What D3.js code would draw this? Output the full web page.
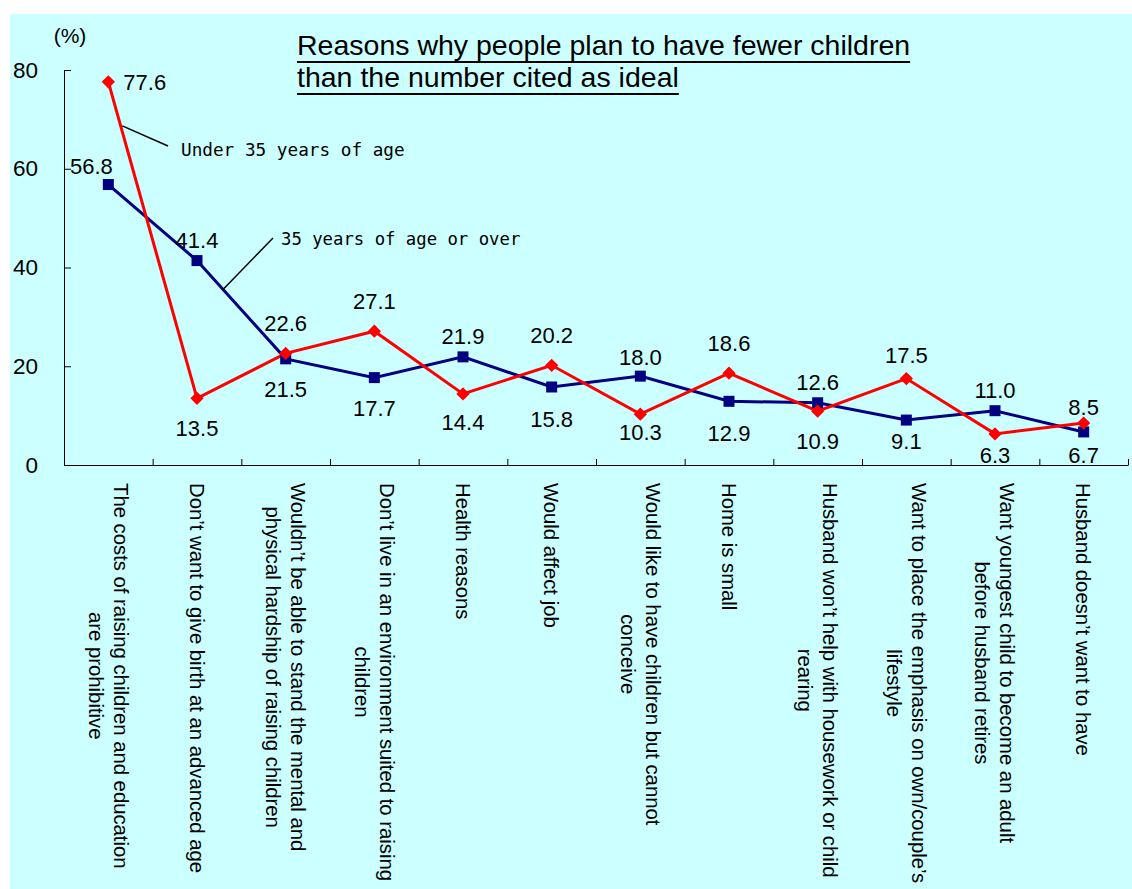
<!DOCTYPE html>
<html><head><meta charset="utf-8">
<script src="https://cdn.jsdelivr.net/npm/d3@7"></script>
<style>body{margin:0;background:#fff;} svg{display:block}</style>
</head><body>
<svg id="c" width="1132" height="889"></svg>
<script>
const categories = [
  "The costs of raising children and education\nare prohibitive",
  "Don’t want to give birth at an advanced age",
  "Wouldn’t be able to stand the mental and\nphysical hardship of raising children",
  "Don’t live in an environment suited to raising\nchildren",
  "Health reasons",
  "Would affect job",
  "Would like to have children but cannot\nconceive",
  "Home is small",
  "Husband won’t help with housework or child\nrearing",
  "Want to place the emphasis on own/couple’s\nlifestyle",
  "Want youngest child to become an adult\nbefore husband retires",
  "Husband doesn’t want to have"
];
const under35 = [77.6, 13.5, 22.6, 27.1, 14.4, 20.2, 10.3, 18.6, 10.9, 17.5, 6.3, 8.5];
const over35  = [56.8, 41.4, 21.5, 17.7, 21.9, 15.8, 18.0, 12.9, 12.6, 9.1, 11.0, 6.7];
const yTicks = [0, 20, 40, 60, 80];
const seriesNames = ["Under 35 years of age", "35 years of age or over"];
const titleLines = ["Reasons why people plan to have fewer children", "than the number cited as ideal"];
const yUnit = "(%)";

// layout-only: vertical nudges (px) of individual data labels
const redLabelNudge  = [0, 0, 0, 0, -2, 0, -12, 0, 0, 6, -9, 14];
const blueLabelNudge = [0, 0, 0, 0, 0, 2, 2, 2, 0, -9, 0, -7];

const svg = d3.select("#c");
const SANS = "'Liberation Sans', Arial, sans-serif";
svg.append("rect").attr("x", 10).attr("y", 14).attr("width", 1122).attr("height", 875).attr("fill", "#CCFFFF");

const x0 = 64, x1 = 1128, yTop = 70, yBot = 465;
const x = d3.scaleBand().domain(d3.range(categories.length)).range([x0, x1]);
const xEdge = d3.scaleLinear().domain([0, categories.length]).range([x0, x1]);
const y = d3.scaleLinear().domain([0, 80]).range([yBot, yTop]);
const cx = i => x(i) + x.bandwidth() / 2;

// Y axis
const ya = svg.append("g").attr("transform", `translate(${x0},0)`)
  .call(d3.axisLeft(y).tickValues(yTicks).tickSize(-7).tickSizeOuter(0).tickPadding(26));
ya.select(".domain").attr("stroke", "#000");
ya.selectAll(".tick line").attr("stroke", "#000");
ya.selectAll(".tick text").attr("font-family", SANS).attr("font-size", 22.5).attr("fill", "#000");

// X axis
const xa = svg.append("g").attr("transform", `translate(0,${yBot})`)
  .call(d3.axisBottom(xEdge).tickValues(d3.range(categories.length + 1)).tickSize(-6).tickSizeOuter(0).tickFormat(""));
xa.select(".domain").attr("stroke", "#000");
xa.selectAll(".tick line").attr("stroke", "#000");

// unit
svg.append("text").attr("x", 70).attr("y", 43).attr("text-anchor", "middle")
  .attr("font-family", SANS).attr("font-size", 21).text(yUnit);

// Title
titleLines.forEach((t, j) => {
  const tx = svg.append("text").attr("x", 297).attr("y", 55 + j * 32)
    .attr("font-family", SANS).attr("font-size", 28.5).attr("fill", "#000").text(t);
  const w = tx.node().getComputedTextLength();
  svg.append("line").attr("x1", 297).attr("x2", 297 + w)
    .attr("y1", 62 + j * 32).attr("y2", 62 + j * 32).attr("stroke", "#000").attr("stroke-width", 2);
});

// Category labels
categories.forEach((c, i) => {
  const lines = c.split("\n");
  const g = svg.append("g").attr("transform", `translate(${cx(i)},483) rotate(90)`);
  const texts = lines.map((l, j) => g.append("text")
    .attr("y", (j - (lines.length - 1) / 2) * 25)
    .attr("dy", "0.36em")
    .attr("text-anchor", "middle")
    .attr("font-family", SANS).attr("font-size", 20.3).attr("fill", "#000").text(l));
  const maxW = d3.max(texts, t => t.node().getComputedTextLength());
  texts.forEach(t => t.attr("x", maxW / 2));
});

// Lines
const line = d3.line().x((d, i) => cx(i)).y(d => y(d));
svg.append("path").datum(over35).attr("d", line).attr("fill", "none").attr("stroke", "#000080").attr("stroke-width", 3);
svg.append("path").datum(under35).attr("d", line).attr("fill", "none").attr("stroke", "#FF0000").attr("stroke-width", 3);

// Markers
svg.selectAll(".sq").data(over35).enter().append("path")
  .attr("d", d3.symbol(d3.symbolSquare, 121))
  .attr("transform", (d, i) => `translate(${cx(i)},${y(d)})`).attr("fill", "#000080");
svg.selectAll(".dm").data(under35).enter().append("path")
  .attr("d", d3.symbol(d3.symbolSquare, 88))
  .attr("transform", (d, i) => `translate(${cx(i)},${y(d)}) rotate(45)`).attr("fill", "#FF0000");

// Data labels
function labels(vals, other, isRed, nudge) {
  vals.forEach((v, i) => {
    let lx = cx(i), ly, anchor = "middle";
    if (i === 0) {
      if (isRed) { lx = cx(i) + 15; ly = y(v) + 8; anchor = "start"; }
      else { lx = cx(i) - 17; ly = y(v) - 11; }
    } else if (v > other[i]) {
      ly = y(v) - (isRed ? 22 : 13);
    } else {
      ly = y(v) + 38;
    }
    svg.append("text").attr("x", lx).attr("y", ly + nudge[i]).attr("text-anchor", anchor)
      .attr("font-family", SANS).attr("font-size", 22).attr("fill", "#000").text(v.toFixed(1));
  });
}
labels(under35, over35, true, redLabelNudge);
labels(over35, under35, false, blueLabelNudge);

// Series annotations with leader lines
const MONO = "'DejaVu Sans Mono', monospace";
{
  const p0x = cx(0) + 14, p0y = y(under35[0]) + (y(under35[1]) - y(under35[0])) * 14 / x.step();
  svg.append("line").attr("x1", p0x).attr("y1", p0y - 6).attr("x2", 168).attr("y2", 146).attr("stroke", "#000").attr("stroke-width", 1.5);
  svg.append("text").attr("x", 181).attr("y", 156).attr("font-family", MONO).attr("font-size", 17.7).attr("fill", "#000").text(seriesNames[0]);
}
{
  const f = 26 / x.step();
  const p1x = cx(1) + 26, p1y = y(over35[1]) + (y(over35[2]) - y(over35[1])) * f;
  svg.append("line").attr("x1", p1x).attr("y1", p1y).attr("x2", 273).attr("y2", 238).attr("stroke", "#000").attr("stroke-width", 1.5);
  svg.append("text").attr("x", 281).attr("y", 245).attr("font-family", MONO).attr("font-size", 17.3).attr("fill", "#000").text(seriesNames[1]);
}
</script>
</body></html>
